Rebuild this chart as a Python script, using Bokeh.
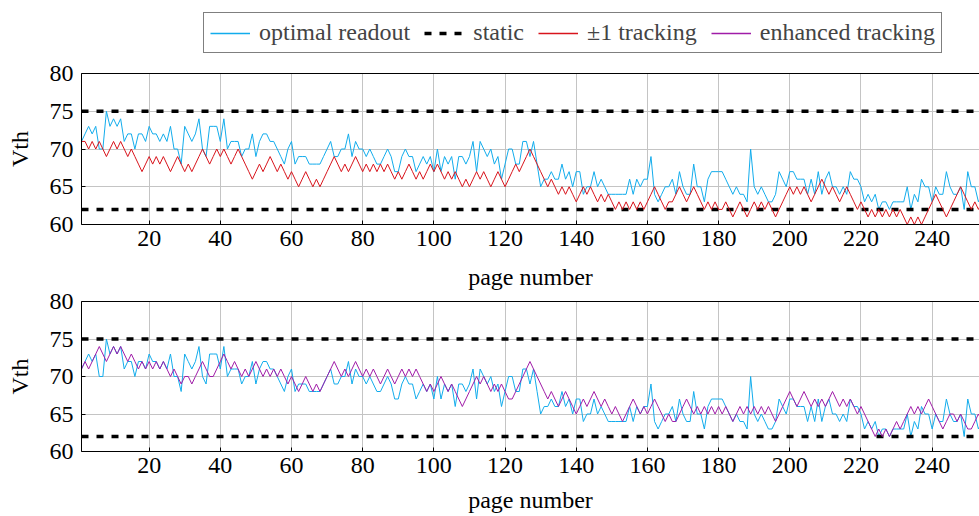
from bokeh.plotting import figure
from bokeh.layouts import column
from bokeh.models import (ColumnDataSource, Legend, LegendItem, LinearAxis,
                          FixedTicker, Range1d)
from bokeh.embed import file_html
from bokeh.resources import INLINE

# ---- data -------------------------------------------------------------
pages = list(range(1, 255))

optimal_readout = [
    71, 72, 73, 72, 73, 70, 70, 75, 73, 74,
    73, 74, 71, 72, 72, 70, 72, 72, 71, 73,
    72, 72, 71, 72, 71, 73, 70, 70, 68, 73,
    72, 71, 72, 74, 70, 69, 73, 73, 73, 71,
    74, 70, 71, 71, 71, 69, 70, 70, 72, 69,
    71, 72, 72, 71, 71, 70, 69, 68, 70, 71,
    68, 69, 69, 69, 68, 68, 68, 68, 69, 70,
    71, 69, 69, 70, 70, 72, 69, 71, 70, 70,
    69, 70, 69, 68, 68, 69, 70, 69, 67, 67,
    69, 70, 69, 69, 67, 68, 69, 68, 69, 67,
    70, 67, 69, 68, 69, 66, 69, 69, 68, 69,
    71, 67, 71, 70, 69, 70, 68, 69, 66, 68,
    70, 70, 68, 68, 71, 71, 69, 71, 68, 65,
    66, 66, 67, 66, 66, 68, 66, 67, 65, 67,
    67, 64, 65, 65, 67, 65, 66, 65, 64, 64,
    64, 64, 64, 64, 66, 64, 66, 65, 66, 66,
    69, 64, 63, 64, 65, 65, 66, 64, 67, 65,
    64, 64, 68, 65, 65, 63, 66, 67, 67, 67,
    67, 66, 65, 64, 65, 64, 64, 63, 70, 65,
    64, 65, 64, 63, 63, 64, 67, 66, 65, 67,
    67, 66, 66, 66, 64, 66, 64, 67, 64, 66,
    67, 65, 65, 64, 65, 64, 67, 66, 66, 65,
    63, 64, 63, 64, 62, 63, 63, 62, 63, 63,
    63, 63, 65, 62, 64, 63, 66, 65, 65, 63,
    65, 64, 64, 67, 65, 64, 64, 65, 62, 67,
    65, 65, 63, 64,
]

pm1_tracking = [
    71, 71, 70, 71, 70, 71, 70, 69, 70, 71,
    70, 71, 70, 69, 70, 69, 68, 67, 68, 69,
    68, 69, 68, 69, 68, 67, 68, 69, 68, 67,
    68, 67, 68, 69, 70, 69, 68, 69, 70, 69,
    70, 69, 68, 69, 70, 69, 68, 67, 66, 67,
    68, 67, 68, 69, 68, 67, 68, 67, 66, 67,
    66, 65, 66, 67, 66, 65, 66, 65, 66, 67,
    68, 69, 68, 67, 68, 67, 68, 69, 68, 67,
    68, 67, 68, 67, 68, 67, 68, 67, 66, 67,
    66, 67, 68, 67, 66, 67, 66, 67, 68, 67,
    68, 67, 66, 67, 66, 67, 66, 65, 66, 65,
    66, 67, 66, 67, 66, 65, 66, 67, 66, 65,
    66, 67, 68, 67, 68, 69, 70, 69, 68, 67,
    66, 65, 66, 65, 64, 65, 64, 65, 64, 63,
    64, 65, 64, 65, 64, 63, 64, 63, 64, 63,
    62, 63, 62, 63, 62, 63, 62, 63, 62, 63,
    64, 65, 64, 63, 62, 63, 63, 64, 65, 64,
    63, 64, 65, 64, 63, 62, 63, 62, 63, 62,
    62, 63, 62, 61, 62, 63, 62, 61, 62, 63,
    62, 63, 62, 63, 62, 61, 62, 63, 64, 65,
    64, 65, 64, 65, 64, 63, 64, 65, 66, 65,
    64, 65, 64, 63, 64, 65, 64, 63, 62, 63,
    62, 61, 62, 61, 62, 61, 62, 61, 62, 61,
    62, 61, 60, 61, 60, 61, 60, 61, 62, 63,
    64, 63, 62, 61, 62, 63, 64, 65, 64, 63,
    62, 63, 62, 63,
]

enhanced_tracking = [
    71, 72, 71, 72, 73, 74, 73, 72, 73, 74,
    73, 74, 73, 72, 73, 72, 71, 72, 71, 72,
    71, 72, 71, 72, 71, 70, 71, 70, 69, 70,
    70, 69, 70, 71, 72, 71, 70, 70, 71, 72,
    73, 72, 71, 72, 71, 70, 71, 70, 71, 72,
    71, 70, 71, 70, 71, 70, 71, 70, 69, 70,
    69, 68, 69, 70, 69, 68, 69, 68, 69, 70,
    71, 72, 71, 70, 71, 70, 71, 72, 71, 70,
    71, 70, 71, 70, 69, 70, 71, 70, 69, 70,
    71, 70, 71, 70, 71, 70, 69, 68, 69, 68,
    69, 70, 69, 68, 69, 68, 67, 66, 67, 68,
    69, 70, 69, 70, 69, 68, 69, 68, 69, 68,
    67, 67, 68, 69, 70, 71, 72, 71, 70, 69,
    68, 67, 68, 67, 66, 67, 68, 67, 66, 65,
    66, 67, 66, 67, 68, 67, 66, 67, 66, 65,
    66, 65, 64, 65, 66, 67, 66, 65, 66, 65,
    66, 67, 66, 65, 64, 65, 64, 64, 65, 66,
    67, 66, 65, 66, 65, 66, 65, 66, 65, 66,
    65, 66, 65, 64, 65, 66, 65, 66, 65, 66,
    65, 66, 65, 66, 65, 64, 65, 66, 67, 68,
    67, 66, 67, 68, 67, 66, 67, 66, 67, 66,
    67, 68, 67, 66, 67, 66, 67, 66, 65, 66,
    65, 64, 63, 62, 63, 62, 63, 62, 63, 64,
    63, 64, 65, 66, 65, 66, 65, 66, 67, 66,
    65, 64, 63, 64, 65, 65, 64, 65, 64, 63,
    63, 64, 65, 64,
]

static_levels = [75, 62]

x_ticks = [20, 40, 60, 80, 100, 120, 140, 160, 180, 200, 220, 240]
y_ticks = [60, 65, 70, 75, 80]
x_lo, x_hi = 1, 253.3
y_lo, y_hi = 60, 80
x_title = "page number"
y_title = "Vth"

# ---- styling ----------------------------------------------------------
SERIF = "Liberation Serif"
FONT_SIZE = "24px"
C_OPT = "#12ACEC"
C_PM1 = "#D8141C"
C_ENH = "#A01CA8"
GRID = "#C4C4C4"
STATIC_WIDTH = 3.5
STATIC_DASH = "7 8"


def text_style(ax):
    ax.major_label_text_font = SERIF
    ax.major_label_text_font_size = FONT_SIZE
    ax.major_label_text_color = "black"
    ax.axis_label_text_font = SERIF
    ax.axis_label_text_font_size = FONT_SIZE
    ax.axis_label_text_font_style = "normal"
    ax.axis_label_text_color = "black"


def style_axes(p, bottom_label, top_label):
    for ax in p.xaxis + p.yaxis:
        ax.axis_line_color = "black"
        ax.axis_line_width = 1
        ax.major_tick_in = 4
        ax.major_tick_out = 0
        ax.minor_tick_line_color = None
        ax.minor_tick_in = 0
        ax.minor_tick_out = 0
        ax.major_tick_line_color = "black"
        text_style(ax)
    p.xaxis.ticker = FixedTicker(ticks=x_ticks)
    p.yaxis.ticker = FixedTicker(ticks=y_ticks)
    p.xaxis.major_label_standoff = 6
    p.yaxis.major_label_standoff = 8
    p.yaxis.axis_label = y_title
    p.yaxis.axis_label_standoff = 14
    if bottom_label:
        p.xaxis.axis_label = x_title
        p.xaxis.axis_label_standoff = 11
    p.xgrid.ticker = FixedTicker(ticks=x_ticks)
    p.ygrid.ticker = FixedTicker(ticks=y_ticks)
    for g in (p.xgrid, p.ygrid):
        g.grid_line_color = GRID
        g.grid_line_width = 1
    # top edge of the axis box; in the lower panel it also carries the
    # x title that belongs to the panel above
    top = LinearAxis(ticker=FixedTicker(ticks=[]), major_label_text_font_size="0px",
                     axis_line_color="black", major_tick_line_color=None,
                     minor_tick_line_color=None, major_tick_in=0, major_tick_out=0,
                     minor_tick_in=0, minor_tick_out=0, major_label_standoff=0)
    text_style(top)
    top.major_label_text_font_size = "0px"
    if top_label:
        top.axis_label = x_title
        top.axis_label_standoff = 12
    p.add_layout(top, "above")


def draw_series(p, track, track_color, width=1):
    r_opt = p.line(pages, optimal_readout, line_color=C_OPT, line_width=width)
    static_src = ColumnDataSource(dict(
        xs=[[pages[0], pages[-1]] for _ in static_levels],
        ys=[[lvl, lvl] for lvl in static_levels]))
    r_static = p.multi_line("xs", "ys", source=static_src, line_color="black",
                            line_width=STATIC_WIDTH, line_dash=STATIC_DASH)
    r_track = p.line(pages, track, line_color=track_color, line_width=width)
    return r_opt, r_static, r_track


def panel(track, track_color, border_top, border_bottom, height,
          bottom_label, top_label):
    p = figure(width=979, height=height,
               x_range=Range1d(x_lo, x_hi), y_range=Range1d(y_lo, y_hi),
               output_backend="svg", toolbar_location=None,
               min_border_left=81, min_border_right=0,
               min_border_top=border_top, min_border_bottom=border_bottom)
    p.outline_line_color = None
    style_axes(p, bottom_label, top_label)
    draw_series(p, track, track_color)
    return p


p1 = panel(pm1_tracking, C_PM1, 20, 36, 207, bottom_label=False, top_label=False)
p2 = panel(enhanced_tracking, C_ENH, 40, 65, 256, bottom_label=True, top_label=True)

# ---- shared legend strip above the two panels -------------------------
# The strip's own ranges sit away from the data, so only the legend shows.
leg = figure(width=979, height=53, x_range=Range1d(-1, 0), y_range=Range1d(0, 1),
             output_backend="svg", toolbar_location=None,
             x_axis_type=None, y_axis_type=None,
             min_border=0, min_border_left=81, min_border_right=0,
             min_border_top=0, min_border_bottom=0)
leg.outline_line_color = None
leg.xgrid.visible = False
leg.ygrid.visible = False

k_opt, k_static, k_pm1 = draw_series(leg, pm1_tracking, C_PM1, width=1.3)
k_enh = leg.line(pages, enhanced_tracking, line_color=C_ENH, line_width=1.3)

legend = Legend(items=[
    LegendItem(label="optimal readout", renderers=[k_opt]),
    LegendItem(label="static", renderers=[k_static]),
    LegendItem(label="\u00b11 tracking", renderers=[k_pm1]),
    LegendItem(label="enhanced tracking", renderers=[k_enh]),
], orientation="horizontal", location=(122, 0))
legend.label_text_font = SERIF
legend.label_text_font_size = FONT_SIZE
legend.glyph_width = 40
legend.glyph_height = 26
legend.label_height = 26
legend.label_standoff = 9
legend.spacing = 14
legend.padding = 6
legend.margin = 0
legend.border_line_color = "black"
legend.border_line_width = 1
legend.background_fill_alpha = 1
leg.add_layout(legend, "center")

layout = column(leg, p1, p2, spacing=0)

with open("out.html", "w") as f:
    f.write(file_html(layout, INLINE))
